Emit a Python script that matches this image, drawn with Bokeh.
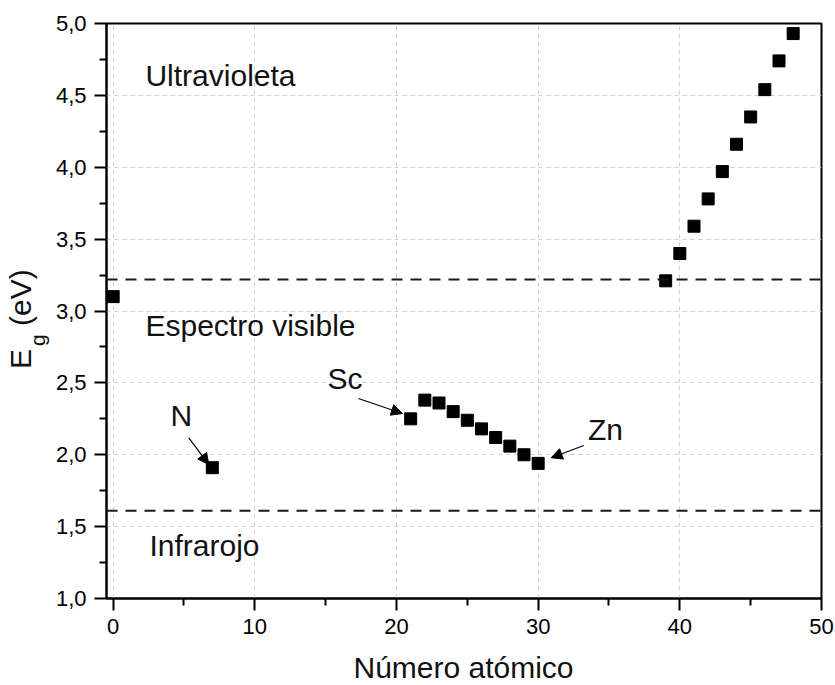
import math
from bokeh.plotting import figure
from bokeh.layouts import row, column
from bokeh.models import (Span, Arrow, NormalHead, FixedTicker, Range1d, Div,
                          ColumnDataSource, CustomJSTickFormatter)
from bokeh.core.properties import value
from bokeh.embed import file_html
from bokeh.resources import INLINE

# ---------------- data ----------------
atomic_number = [0, 7, 21, 22, 23, 24, 25, 26, 27, 28, 29, 30,
                 39, 40, 41, 42, 43, 44, 45, 46, 47, 48]
band_gap = [3.10, 1.91, 2.25, 2.38, 2.36, 2.30, 2.24, 2.18, 2.12, 2.06, 2.00, 1.94,
            3.21, 3.40, 3.59, 3.78, 3.97, 4.16, 4.35, 4.54, 4.74, 4.93]

visible_upper = 3.22   # eV, UV limit
visible_lower = 1.61   # eV, IR limit

x_ticks = [0, 10, 20, 30, 40, 50]
x_tick_labels = ["0", "10", "20", "30", "40", "50"]
x_minor = [5, 15, 25, 35, 45]
y_ticks = [1.0, 1.5, 2.0, 2.5, 3.0, 3.5, 4.0, 4.5, 5.0]
y_tick_labels = ["1,0", "1,5", "2,0", "2,5", "3,0", "3,5", "4,0", "4,5", "5,0"]
y_minor = [1.25, 1.75, 2.25, 2.75, 3.25, 3.75, 4.25, 4.75]

region_text = ["Ultravioleta", "Espectro visible", "Infrarojo", "N", "Sc", "Zn"]
region_x = [2.28, 2.28, 2.56, 4.04, 15.13, 33.51]
region_y = [4.557, 2.818, 1.287, 2.192, 2.447, 2.099]   # text baselines

arrow_x0 = [5.34, 17.31, 33.22]
arrow_y0 = [2.118, 2.391, 2.064]
arrow_x1 = [6.75, 20.42, 30.92]
arrow_y1 = [1.932, 2.287, 1.979]

x_title = "Número atómico"
y_title_main, y_title_sub, y_title_unit = "E", "g", "(eV)"

FONT = "Liberation Sans"
CSS_FONT = "font-family:'Liberation Sans',Arial,sans-serif;"
W, H = 835, 685
LEFT_W = 52                      # HTML strip holding the y-axis title
BOTTOM_H = 40                    # HTML strip holding the x-axis title
FRAME_H_PX = 575.0               # frame height in px (for baseline correction)
BASELINE_FIX_PX = 11.5           # renderer draws text this much below its baseline

# ---------------- main figure ----------------
p = figure(width=W - LEFT_W, height=H - BOTTOM_H, output_backend="svg",
           toolbar_location=None,
           x_range=Range1d(-0.47, 50), y_range=Range1d(1.0, 5.0),
           min_border_left=106 - LEFT_W, min_border_right=14, min_border_top=23,
           min_border_bottom=47)
p.background_fill_color = "white"
p.border_fill_color = "white"
p.outline_line_color = "black"
p.outline_line_width = 2

def fmt(tv, tl):
    return CustomJSTickFormatter(args=dict(tvals=tv, tlabs=tl), code="""
        let best = 0, d = 1e9;
        for (let i = 0; i < tvals.length; i++) {
            const dd = Math.abs(tvals[i] - tick);
            if (dd < d) { d = dd; best = i; }
        }
        return tlabs[best];
    """)

p.xaxis.ticker = FixedTicker(ticks=x_ticks, minor_ticks=x_minor)
p.yaxis.ticker = FixedTicker(ticks=y_ticks, minor_ticks=y_minor)
p.xaxis.formatter = fmt(x_ticks, x_tick_labels)
p.yaxis.formatter = fmt(y_ticks, y_tick_labels)

for ax in (p.xaxis[0], p.yaxis[0]):
    ax.axis_line_width = 2
    ax.axis_line_color = "black"
    ax.major_tick_line_width = 2
    ax.minor_tick_line_width = 2
    ax.major_tick_line_color = "black"
    ax.minor_tick_line_color = "black"
    ax.major_tick_out = 12
    ax.major_tick_in = 0
    ax.minor_tick_out = 7
    ax.minor_tick_in = 0
    ax.major_label_text_font = FONT
    ax.major_label_text_font_size = "22px"
    ax.major_label_text_color = "black"
p.xaxis.major_label_standoff = 8
p.yaxis.major_label_standoff = 8

p.xgrid.grid_line_color = "#cfcfcf"
p.ygrid.grid_line_color = "#cfcfcf"
p.xgrid.grid_line_dash = "4 4"
p.ygrid.grid_line_dash = "4 4"
p.xgrid.grid_line_width = 1
p.ygrid.grid_line_width = 1

# reference lines
for loc in (visible_upper, visible_lower):
    p.add_layout(Span(location=loc, dimension="width", line_color="#1a1a1a",
                      line_width=2, line_dash="11 8"))

# data markers
src = ColumnDataSource(dict(x=atomic_number, y=band_gap))
p.scatter("x", "y", source=src, marker="square", size=12,
          fill_color="black", line_color="black")

# region / element labels
shift = BASELINE_FIX_PX * (5.0 - 1.0) / FRAME_H_PX
tsrc = ColumnDataSource(dict(x=region_x, y=[v + shift for v in region_y], t=region_text))
p.text("x", "y", text="t", source=tsrc, text_font=value(FONT),
       text_font_size="30px", text_color="#111111", text_align="left",
       text_baseline="alphabetic")

# arrows
for xs, ys, xe, ye in zip(arrow_x0, arrow_y0, arrow_x1, arrow_y1):
    p.add_layout(Arrow(x_start=xs, y_start=ys, x_end=xe, y_end=ye,
                       line_color="black", line_width=1.2,
                       end=NormalHead(size=11, fill_color="black",
                                      line_color="black", line_width=1)))

# ---------------- y-axis title (HTML, real subscript) ----------------
ytitle_html = (
    f'<div style="position:relative;width:{LEFT_W}px;height:{H - BOTTOM_H}px;overflow:hidden;">'
    '<div style="position:absolute;left:6px;top:369px;transform:rotate(-90deg);'
    f'transform-origin:0 0;white-space:nowrap;{CSS_FONT}'
    'font-size:30px;line-height:30px;color:#111111;">'
    f'{y_title_main}<span style="font-size:21px;position:relative;top:14px;margin-left:3px;">'
    f'{y_title_sub}</span>&nbsp;{y_title_unit}</div></div>'
)
ydiv = Div(text=ytitle_html, width=LEFT_W, height=H - BOTTOM_H, margin=0)

# ---------------- x-axis title (HTML) ----------------
xtitle_html = (
    f'<div style="position:relative;width:{W}px;height:{BOTTOM_H}px;overflow:hidden;">'
    '<div style="position:absolute;left:463.5px;top:8px;transform:translateX(-50%);'
    f'white-space:nowrap;{CSS_FONT}font-size:30px;line-height:30px;color:#111111;">'
    f'{x_title}</div></div>'
)
xdiv = Div(text=xtitle_html, width=W, height=BOTTOM_H, margin=0)

layout = column(row(ydiv, p, spacing=0), xdiv, spacing=0)
open("out.html", "w").write(file_html(layout, INLINE))
